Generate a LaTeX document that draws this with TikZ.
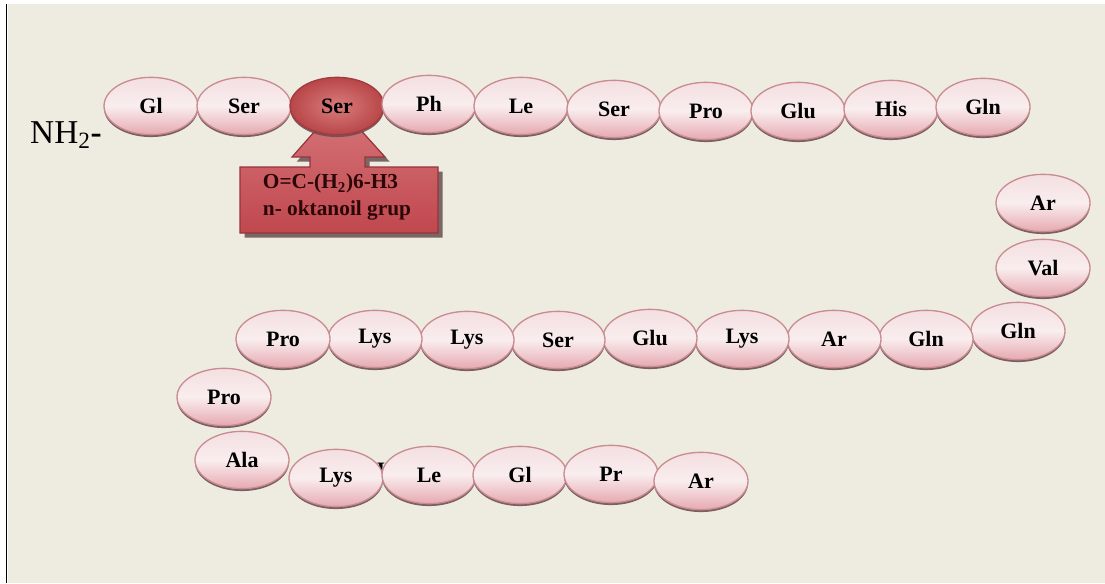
\documentclass[tikz,border=0pt]{standalone}
\usepackage{fontspec}
\setmainfont{Liberation Serif}
\usetikzlibrary{shapes.geometric,shadows}
\definecolor{bg}{HTML}{EEECE1}
\definecolor{beadtop}{HTML}{F4DFE1}
\definecolor{beadmid}{HTML}{F9EDEE}
\definecolor{beadbot}{HTML}{E6A9B1}
\definecolor{beadedge}{HTML}{C98C92}
\definecolor{beadshadow}{HTML}{6E5052}
\definecolor{darkin}{HTML}{DA7C7C}
\definecolor{darkout}{HTML}{B84648}
\definecolor{darkedge}{HTML}{A33A3D}
\definecolor{boxtop}{HTML}{D6777B}
\definecolor{boxbot}{HTML}{C0474E}
\definecolor{boxedge}{HTML}{97343A}
\definecolor{boxshadow}{HTML}{5E4646}
\definecolor{boxtext}{HTML}{2B0707}
\begin{document}
\begin{tikzpicture}[x=0.75pt,y=-0.75pt,
  bead/.style={ellipse, minimum width=70.5pt, minimum height=43pt, inner sep=0pt,
    draw=beadedge, line width=1pt, top color=beadtop, bottom color=beadbot, middle color=beadmid,
    font=\fontsize{16.5}{18}\selectfont\bfseries, text=black,
    drop shadow={shadow xshift=0pt, shadow yshift=-1.8pt, fill=beadshadow, opacity=0.9}},
  acylbead/.style={bead, inner color=darkin, outer color=darkout, draw=darkedge},
  boxlabel/.style={align=left, font=\fontsize{16}{20}\selectfont\bfseries, text=boxtext, inner sep=0pt},
  stray/.style={font=\fontsize{16.5}{18}\selectfont\bfseries, text=black, inner sep=0pt}
]
\useasboundingbox (0,0) rectangle (1105,583);
\fill[white] (0,0) rectangle (1105,583);
\fill[bg] (8,4) rectangle (1105,583);
\draw[black, line width=1.4pt] (6.5,4) -- (6.5,583);

% N-terminus
\node[font=\fontsize{25}{27}\selectfont, text=black, inner sep=0pt] (nh2) at (66,135) {NH\textsubscript{2}\textbf{-}};

% acyl callout (arrow + box)
\path[draw=boxedge, line width=0.9pt, top color=boxtop, bottom color=boxbot,
  drop shadow={shadow xshift=3.5pt, shadow yshift=-3.5pt, fill=boxshadow, opacity=0.8}]
  (240,167) -- (310,167) -- (310,157) -- (292,157) -- (338,105) -- (385,157)
  -- (365,157) -- (365,167) -- (438,167) -- (438,233) -- (240,233) -- cycle;
\node[boxlabel] (acyl) at (337,197) {O=C-(H\textsubscript{2})6-H3\\n- oktanoil grup};

% top row
\node[bead] (t1) at (151,106) {Gl};
\node[bead] (t2) at (244,106) {Ser};
\node[acylbead] (t3) at (337,106) {Ser};
\node[bead] (t4) at (429,104) {Ph};
\node[bead] (t5) at (521,106) {Le};
\node[bead] (t6) at (614,109) {Ser};
\node[bead] (t7) at (706,111) {Pro};
\node[bead] (t8) at (798,111) {Glu};
\node[bead] (t9) at (891,109) {His};
\node[bead] (t10) at (983,107) {Gln};

% right column
\node[bead] (r1) at (1043,203) {Ar};
\node[bead] (r2) at (1043,268) {Val};
\node[bead] (r3) at (1018,331) {Gln};

% middle row
\node[bead] (m8) at (926,339) {Gln};
\node[bead] (m7) at (834,339) {Ar};
\node[bead] (m6) at (742,339) {Lys};
\node[bead] (m5) at (650,338) {Glu};
\node[bead] (m4) at (558,340) {Ser};
\node[bead] (m3) at (467,340) {Lys};
\node[bead] (m2) at (375,339) {Lys};
\node[bead] (m1) at (283,339) {Pro};

% left turn
\node[bead] (l1) at (224,397) {Pro};
\node[bead] (l2) at (242,460) {Ala};

% bottom row
\node[stray] (mark) at (381,470) {I};
\node[bead] (u1) at (336,478) {Lys};
\node[bead] (u2) at (429,475) {Le};
\node[bead] (u3) at (520,475) {Gl};
\node[bead] (u4) at (611,474) {Pr};
\node[bead] (u5) at (701,481) {Ar};
\end{tikzpicture}
\end{document}
